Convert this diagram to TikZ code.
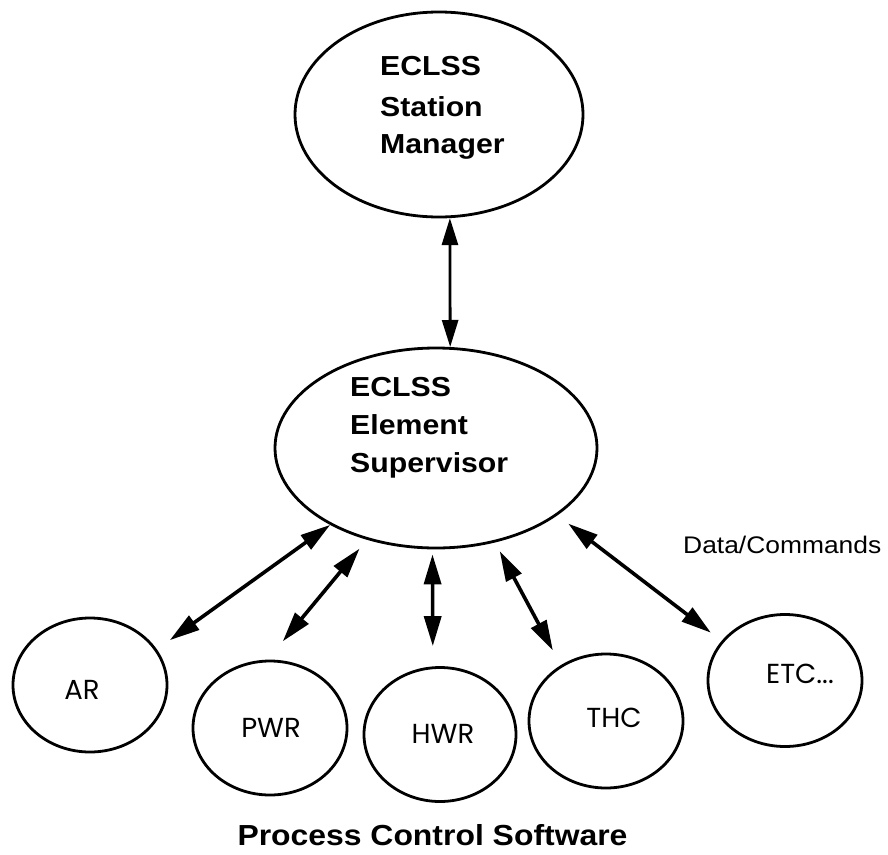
\documentclass[tikz,border=0pt]{standalone}
\usepackage{fontspec}
\usepackage{graphicx}
\setmainfont{Liberation Sans}
\newfontfamily\labelfont{Poppins}
\usetikzlibrary{arrows.meta, shapes.geometric}
% horizontal stretch for the wide bold captions
\newcommand{\hstretch}[2]{\scalebox{#1}[1]{#2}}

\begin{document}
\begin{tikzpicture}[x=1pt, y=-1pt,
  bubble/.style={draw, ellipse, line width=2.8pt, inner sep=0pt},
  small/.style={bubble, minimum width=154pt, minimum height=134pt},
  headline/.style={anchor=base west, inner sep=0pt,
    font=\fontsize{27.5}{30}\selectfont\bfseries},
  tag/.style={anchor=base, inner sep=0pt,
    font=\labelfont\fontsize{27.5}{30}\selectfont},
  link/.style={line width=3.6pt, {Triangle[length=30pt,width=17pt]}-{Triangle[length=30pt,width=17pt]}},
]
\useasboundingbox (0,0) rectangle (888,854);

% ellipses
\node[bubble, minimum width=288pt, minimum height=205pt] (sm) at (439,114.5) {};
\node[bubble, minimum width=322pt, minimum height=200pt] (es) at (436,448) {};
\node[small] (ar)  at (90,685) {};
\node[small] (pwr) at (270,728) {};
\node[small, minimum width=152pt] (hwr) at (440,734.5) {};
\node[small] (thc) at (606,721) {};
\node[small, minimum height=132pt] (etc) at (785,680.5) {};

% captions of the two managers
\node[headline] (sm-a) at (380,75)  {\hstretch{1.1}{ECLSS}};
\node[headline] (sm-b) at (380,116) {\hstretch{1.1}{Station}};
\node[headline] (sm-c) at (380,153) {\hstretch{1.1}{Manager}};
\node[headline] (es-a) at (350,396) {\hstretch{1.1}{ECLSS}};
\node[headline] (es-b) at (350,434) {\hstretch{1.1}{Element}};
\node[headline] (es-c) at (350,472) {\hstretch{1.1}{Supervisor}};

% process labels
\node[tag] (ar-t)  at (82,699)  {AR};
\node[tag] (pwr-t) at (271,737) {PWR};
\node[tag] (hwr-t) at (443,743) {HWR};
\node[tag] (thc-t) at (614,727) {THC};
\node[tag] (etc-t) at (800,683) {ETC...};

% data / command links
\draw[line width=2.8pt, {Triangle[length=27pt,width=16pt]}-{Triangle[length=27pt,width=16pt]}]
  (sm.-84.4) -- (es.82.6);
\draw[link, shorten >=15.9pt] (es.216.9) -- (ar.28.9);
\draw[link, shorten <=11.5pt, shorten >=23.8pt] (es.233.9) -- (pwr.92.8);
\draw[link, shorten <=5pt, shorten >=20.3pt] (es.268.3) -- (hwr.96);
\draw[link, shorten <=10pt, shorten >=16.8pt] (es.302.5) -- (thc.129.9);
\draw[link, shorten <=13.7pt, shorten >=13.5pt] (es.331) -- (etc.148.1);

\node[anchor=base west, inner sep=0pt, font=\fontsize{24}{28}\selectfont]
  (dc) at (683,553) {\hstretch{1.1}{Data/Commands}};
\node[anchor=base, inner sep=0pt, font=\fontsize{29}{32}\selectfont\bfseries]
  (pcs) at (432.5,845) {\hstretch{1.1}{Process Control Software}};
\end{tikzpicture}
\end{document}
